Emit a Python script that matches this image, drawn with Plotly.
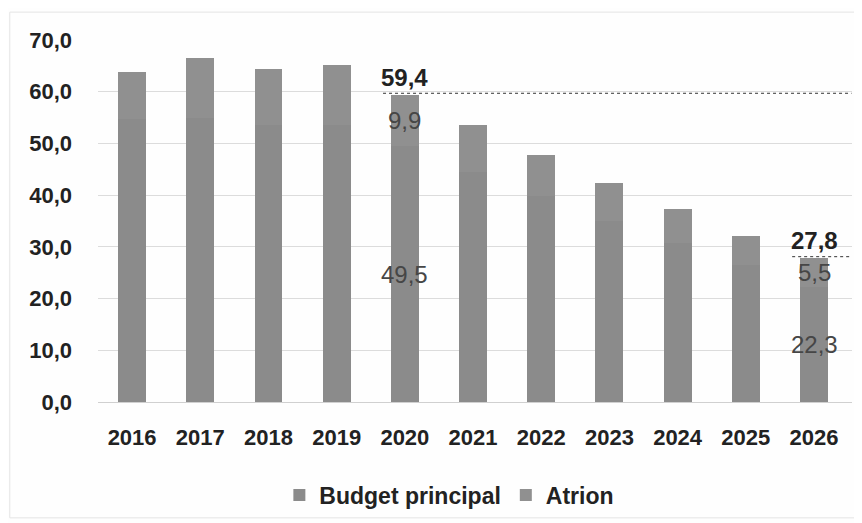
import plotly.graph_objects as go

years = ["2016", "2017", "2018", "2019", "2020", "2021", "2022", "2023", "2024", "2025", "2026"]
budget_principal = [54.8, 55.0, 53.5, 53.5, 49.5, 44.5, 39.8, 35.0, 30.8, 26.5, 22.3]
atrion = [9.0, 11.5, 10.9, 11.7, 9.9, 9.1, 8.0, 7.4, 6.5, 5.6, 5.5]
labelled = ["2020", "2026"]
y_ticks = [0, 10, 20, 30, 40, 50, 60, 70]
y_tick_text = ["0,0", "10,0", "20,0", "30,0", "40,0", "50,0", "60,0", "70,0"]

FONT = "Liberation Sans Narrow, Arial Narrow, Liberation Sans, Arial, sans-serif"

def fr(v):
    return f"{v:.1f}".replace(".", ",")

fig = go.Figure()
fig.add_trace(go.Bar(x=years, y=budget_principal, name="<b>Budget principal</b>",
                     marker=dict(color="#8b8b8b", line=dict(width=0))))
fig.add_trace(go.Bar(x=years, y=atrion, name="<b>Atrion</b>",
                     marker=dict(color="#909090", line=dict(width=0))))

annotations = []
shapes = []
for yr in labelled:
    i = years.index(yr)
    b = budget_principal[i]
    a = atrion[i]
    tot = round(b + a, 1)
    annotations.append(dict(x=i, y=b / 2, text=fr(b), showarrow=False,
                            font=dict(family=FONT, size=24, color="#464646")))
    annotations.append(dict(x=i, y=b + a / 2, text=fr(a), showarrow=False,
                            font=dict(family=FONT, size=24, color="#464646")))
    annotations.append(dict(x=i, y=tot, text=f"<b>{fr(tot)}</b>", showarrow=False,
                            yanchor="bottom", yshift=2,
                            font=dict(family=FONT, size=24, color="#222222")))
    shapes.append(dict(type="line", xref="x", yref="y", x0=i - 0.32, x1=len(years) - 0.45,
                       y0=tot + 0.3, y1=tot + 0.3,
                       line=dict(color="#333333", width=1, dash="dot")))

shapes.append(dict(type="rect", xref="paper", yref="paper", x0=-0.117, x1=1.008,
                   y0=-0.32, y1=1.077, line=dict(color="#e4e4e4", width=1), layer="below"))

fig.update_layout(
    width=862, height=523,
    barmode="stack", bargap=0.59,
    paper_bgcolor="#fefefe", plot_bgcolor="#fefefe",
    margin=dict(l=90, r=18, t=32, b=129),
    font=dict(family=FONT, color="#222222"),
    xaxis=dict(type="category", showgrid=False, showline=True, linecolor="#d0d0d0",
               tickfont=dict(family=FONT, size=22, color="#222222"),
               ticks="", tickprefix="<b>", ticksuffix="</b>", ticklabelstandoff=16),
    yaxis=dict(range=[0, 70], tickvals=y_ticks, ticktext=[f"<b>{t}</b>" for t in y_tick_text],
               showgrid=True, gridcolor="#dcdcdc", gridwidth=1, zeroline=False,
               tickfont=dict(family=FONT, size=22, color="#222222"), ticklabelstandoff=25),
    legend=dict(orientation="h", x=0.466, xanchor="center", y=-0.257, yanchor="middle",
                font=dict(family=FONT, size=23, color="#222222"),
                itemwidth=30, traceorder="normal", bgcolor="rgba(0,0,0,0)"),
    annotations=annotations, shapes=shapes,
)

fig.write_html("out.html")
